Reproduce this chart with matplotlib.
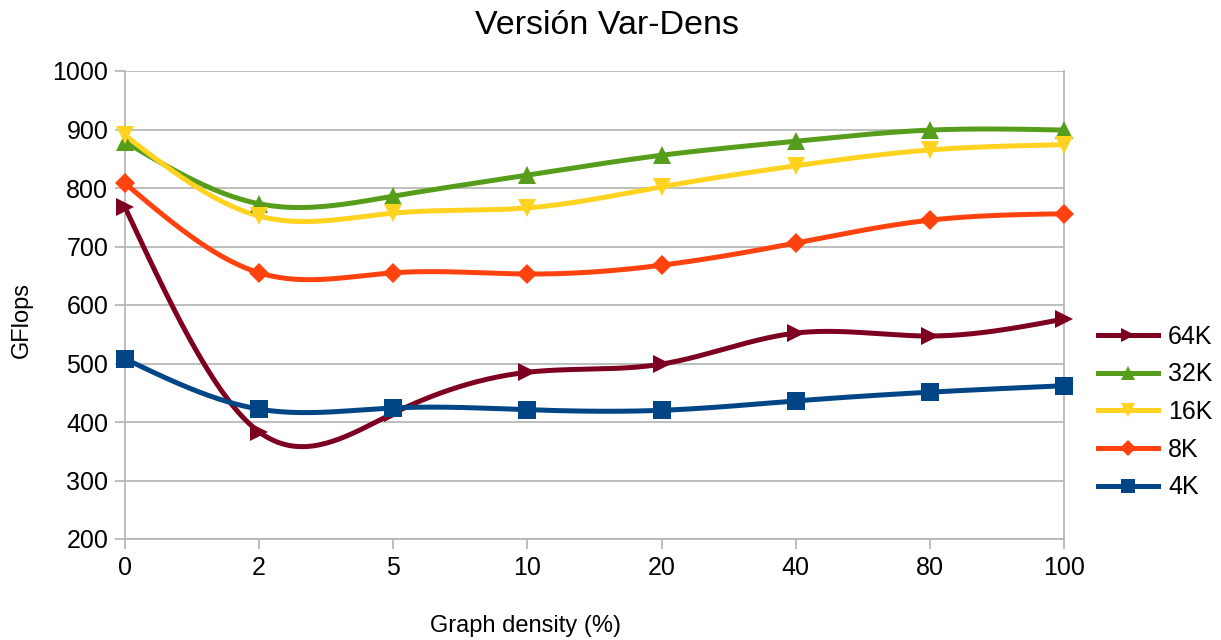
import matplotlib
matplotlib.use("Agg")
import matplotlib.pyplot as plt
import numpy as np

plt.rcParams['font.family'] = ['Liberation Sans', 'DejaVu Sans']

densities = ["0", "2", "5", "10", "20", "40", "80", "100"]
gf_64k = [767, 383, 415, 485, 499, 552, 547, 576]
gf_32k = [879, 773, 786, 822, 856, 880, 899, 899]
gf_16k = [890, 752, 757, 766, 802, 838, 865, 874]
gf_8k = [808, 655, 655, 653, 668, 706, 745, 756]
gf_4k = [508, 422, 424, 421, 420, 436, 451, 462]

series = [
    ("64K", gf_64k, "#7E0021", ">", 13),
    ("32K", gf_32k, "#579D1C", "^", 13),
    ("16K", gf_16k, "#FFD320", "v", 13),
    ("8K", gf_8k, "#FF420E", "D", 10),
    ("4K", gf_4k, "#004586", "s", 13),
]


def natural_spline(x, y, n=40):
    # plain natural cubic spline, used only to draw the smooth line
    x = np.asarray(x, float)
    y = np.asarray(y, float)
    m = len(x)
    h = np.diff(x)
    A = np.zeros((m, m))
    b = np.zeros(m)
    A[0, 0] = A[-1, -1] = 1
    for i in range(1, m - 1):
        A[i, i - 1] = h[i - 1]
        A[i, i] = 2 * (h[i - 1] + h[i])
        A[i, i + 1] = h[i]
        b[i] = 3 * ((y[i + 1] - y[i]) / h[i] - (y[i] - y[i - 1]) / h[i - 1])
    c = np.linalg.solve(A, b)
    xs, ys = [], []
    for i in range(m - 1):
        t = np.linspace(0, h[i], n, endpoint=(i == m - 2))
        bi = (y[i + 1] - y[i]) / h[i] - h[i] * (2 * c[i] + c[i + 1]) / 3
        di = (c[i + 1] - c[i]) / (3 * h[i])
        xs.append(x[i] + t)
        ys.append(y[i] + bi * t + c[i] * t ** 2 + di * t ** 3)
    return np.concatenate(xs), np.concatenate(ys)


fig = plt.figure(figsize=(12.21, 6.4), dpi=100)
ax = fig.add_axes([125 / 1221, 1 - 539 / 640, (1064 - 125) / 1221, (539 - 71) / 640])

pos = np.arange(len(densities))
for name, vals, color, mk, ms in series:
    sx, sy = natural_spline(pos, vals)
    ax.plot(sx, sy, color=color, lw=3.6, solid_capstyle='round', zorder=3)
    ax.plot(pos, vals, linestyle='none', marker=mk, ms=ms, color=color,
            markeredgewidth=0, zorder=4, clip_on=False)
    ax.plot([], [], color=color, lw=3.6, marker=mk, ms=ms * 0.8, markeredgewidth=0, label=name)

ax.set_xlim(0, 7)
ax.set_ylim(200, 1000)
ax.set_yticks(range(200, 1001, 100))
ax.set_xticks(pos)
ax.set_xticklabels(densities)
ax.grid(axis='y', color='#b3b3b3', lw=1.2)
ax.set_axisbelow(True)
ax.spines['top'].set_visible(False)
for s in ['left', 'right', 'bottom']:
    ax.spines[s].set_color('#b3b3b3')
    ax.spines[s].set_linewidth(1.2)
ax.tick_params(axis='both', colors='#b3b3b3', width=1.2, length=7, labelsize=18,
               labelcolor='black', pad=5)

fig.text(607 / 1221, 1 - 25 / 640, "Versión Var-Dens", fontsize=24.5, ha='center', va='center')
fig.text(525 / 1221, 1 - 626 / 640, "Graph density (%)", fontsize=17, ha='center', va='center')
fig.text(22 / 1221, 1 - 320 / 640, "GFlops", fontsize=17, rotation=90, ha='center', va='center')

fig.legend(loc='center left', bbox_to_anchor=(1098 / 1221, 1 - 412 / 640), frameon=False,
           fontsize=18, handlelength=2.4, labelspacing=0.55, handletextpad=0.4, borderpad=0,
           borderaxespad=0)

fig.savefig("out.png", dpi=100)
